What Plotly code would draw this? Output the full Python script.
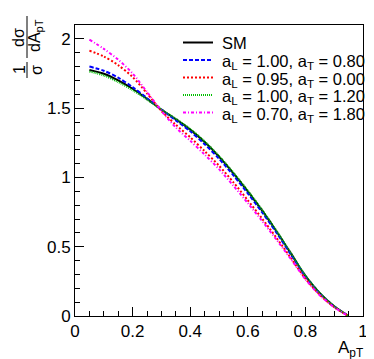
import plotly.graph_objects as go

# A_pT bin centres
a_pt = [0.05, 0.10, 0.15, 0.20, 0.25, 0.30, 0.35, 0.40, 0.45, 0.50,
        0.55, 0.60, 0.65, 0.70, 0.75, 0.80, 0.85, 0.90, 0.95]

sm = [1.775, 1.748, 1.70, 1.64, 1.567, 1.49, 1.42, 1.345, 1.255, 1.15,
      1.03, 0.90, 0.76, 0.61, 0.45, 0.29, 0.165, 0.07, 0.0]
al100_at080 = [1.80, 1.77, 1.72, 1.652, 1.572, 1.49, 1.412, 1.333, 1.24, 1.135,
               1.015, 0.885, 0.747, 0.60, 0.442, 0.285, 0.162, 0.068, 0.0]
al095_at000 = [1.915, 1.873, 1.81, 1.725, 1.607, 1.48, 1.38, 1.29, 1.19, 1.085,
               0.965, 0.835, 0.702, 0.563, 0.417, 0.27, 0.153, 0.064, 0.0]
al100_at120 = [1.765, 1.736, 1.688, 1.63, 1.562, 1.49, 1.423, 1.35, 1.26, 1.155,
               1.035, 0.905, 0.765, 0.614, 0.453, 0.292, 0.166, 0.07, 0.0]
al070_at180 = [1.995, 1.928, 1.85, 1.75, 1.617, 1.48, 1.36, 1.265, 1.165, 1.06,
               0.94, 0.815, 0.685, 0.55, 0.41, 0.265, 0.15, 0.062, 0.0]

names = ["SM",
         "a<sub>L</sub> = 1.00, a<sub>T</sub> = 0.80",
         "a<sub>L</sub> = 0.95, a<sub>T</sub> = 0.00",
         "a<sub>L</sub> = 1.00, a<sub>T</sub> = 1.20",
         "a<sub>L</sub> = 0.70, a<sub>T</sub> = 1.80"]
series = [sm, al100_at080, al095_at000, al100_at120, al070_at180]
colors = ["#000000", "#0000ff", "#ff0000", "#00c000", "#ff00ff"]
dashes = ["solid", "4px,2px", "2px,2px", "1px,1px", "3px,2px,1px,2px"]
widths = [2, 2, 2, 2, 2]

FONT = "Liberation Sans, Arial, sans-serif"

fig = go.Figure()
for name, ys, c, d, w in zip(names, series, colors, dashes, widths):
    fig.add_trace(go.Scatter(x=a_pt, y=ys, mode="lines", name=name, showlegend=False,
                             line=dict(color=c, dash=d, width=w, shape="spline", smoothing=0.8)))

fig.update_layout(
    width=374, height=359,
    margin=dict(l=67, r=19, t=17, b=51),
    paper_bgcolor="white", plot_bgcolor="white",
    font=dict(family=FONT, size=17, color="black"),
    showlegend=False,
)
fig.update_xaxes(range=[0, 1], showgrid=False, zeroline=False,
                 showline=True, mirror=True, linecolor="black", linewidth=1,
                 ticks="inside", ticklen=9, tickcolor="black",
                 tickvals=[0, 0.2, 0.4, 0.6, 0.8, 1], ticktext=["0", "0.2", "0.4", "0.6", "0.8", "1"],
                 minor=dict(ticks="inside", ticklen=5, dtick=0.05, tickcolor="black"))
fig.update_yaxes(range=[0, 2.1], showgrid=False, zeroline=False,
                 showline=True, mirror=True, linecolor="black", linewidth=1,
                 ticks="inside", ticklen=9, tickcolor="black",
                 tickvals=[0, 0.5, 1, 1.5, 2], ticktext=["0", "0.5", "1", "1.5", "2"],
                 minor=dict(ticks="inside", ticklen=5, dtick=0.1, tickcolor="black"))

# helpers: pixel -> paper
def px(x):
    return (x - 67) / 288

def py(y):
    return (308 - y) / 291

# legend drawn by hand (ROOT style, tight rows, no frame)
rows = [34.5, 52, 69.5, 87, 104.5]
for name, c, d, w, ry in zip(names, colors, dashes, widths, rows):
    fig.add_shape(type="line", xref="paper", yref="paper",
                  x0=px(175), x1=px(205), y0=py(ry), y1=py(ry),
                  line=dict(color=c, dash=d, width=w))
    off = 0 if name == "SM" else 2
    fig.add_annotation(text=name, xref="paper", yref="paper", x=px(212), y=py(ry + off),
                       xanchor="left", yanchor="middle", showarrow=False,
                       font=dict(size=16.5))

# y title: 1/sigma dsigma/dA_pT, rotated
for txt, (cx, cy) in [("1", (11, 62)), ("σ", (28, 62)),
                      ("dσ", (11, 30)), ("dA<sub>pT</sub>", (28, 28))]:
    fig.add_annotation(text=txt, xref="paper", yref="paper", x=px(cx), y=py(cy),
                       xanchor="center", yanchor="middle", showarrow=False,
                       textangle=-90, font=dict(size=16))
for y0, y1 in [(54, 70), (8, 50)]:
    fig.add_shape(type="line", xref="paper", yref="paper",
                  x0=px(19), x1=px(19), y0=py(y0), y1=py(y1),
                  line=dict(color="black", width=1))

# x title
fig.add_annotation(text="A<sub>pT</sub>", xref="paper", yref="paper",
                   x=px(357), y=py(328), xanchor="right", yanchor="top",
                   showarrow=False, font=dict(size=17))

fig.write_html("out.html")
